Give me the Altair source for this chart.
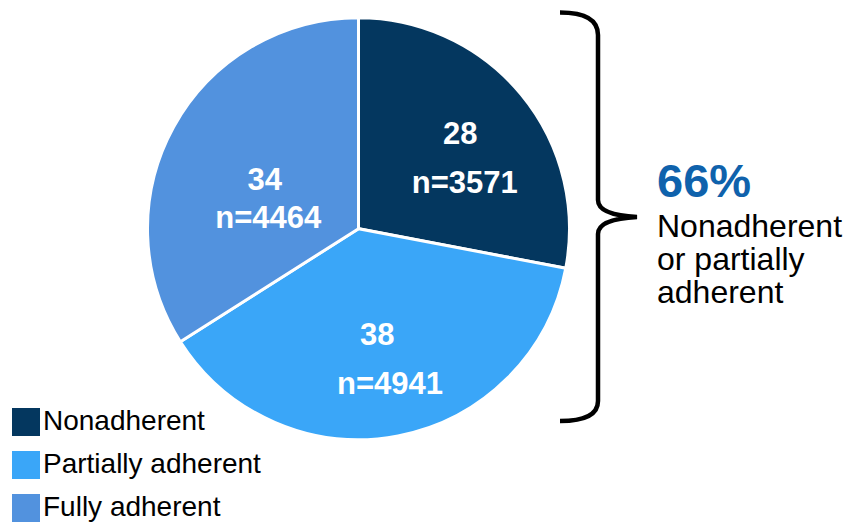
import altair as alt
import pandas as pd

# ---- data ----
categories = ["Nonadherent", "Partially adherent", "Fully adherent"]
percents = [28, 38, 34]
counts = [3571, 4941, 4464]
colors = ["#04375F", "#3AA6F8", "#5292DE"]
summary_lines = ["Nonadherent", "or partially", "adherent"]

FONT = "Liberation Sans"
CX, CY = 358.5, 228.7

df = pd.DataFrame({"category": categories, "pct": percents, "n": counts})
df["order"] = range(len(df))
df["n_label"] = "n=" + df["n"].astype(str)

base = alt.Chart(df).encode(
    theta=alt.Theta("pct:Q", stack=True),
    order=alt.Order("order:Q"),
    detail="category:N",
    x=alt.value(CX),
    y=alt.value(CY),
)

pie = base.mark_arc(outerRadius=211, stroke="white", strokeWidth=3).encode(
    color=alt.Color(
        "category:N",
        scale=alt.Scale(domain=categories, range=colors),
        sort=categories,
        legend=alt.Legend(
            title=None, orient="none", legendX=12, legendY=408,
            symbolType="square", symbolSize=784, symbolStrokeWidth=0,
            symbolOpacity=1, labelFont=FONT, labelFontSize=28,
            labelColor="black", labelOffset=3, rowPadding=15, padding=0,
            labelLimit=400,
        ),
    )
)

# per-slice label offsets (pixels) relative to the slice mid-angle at radius 125
tweaks = {
    "Nonadherent": ((5.5, -5), (9.9, 44.3)),
    "Partially adherent": ((-4.6, -6.5), (8.1, 42.5)),
    "Fully adherent": ((15.7, 21.5), (19.3, 59.8)),
}

layers = [pie]
for cat, ((dx1, dy1), (dx2, dy2)) in tweaks.items():
    for field, dx, dy in (("pct", dx1, dy1), ("n_label", dx2, dy2)):
        layers.append(
            base.transform_calculate(
                lbl=f"datum.category == '{cat}' ? '' + datum.{field} : ''"
            ).mark_text(
                radius=125, dx=dx, dy=dy, align="center", baseline="alphabetic",
                font=FONT, fontSize=31, fontWeight="bold", color="white",
            ).encode(text="lbl:N")
        )

summary_value = f"{percents[0] + percents[1]}%"
big = alt.Chart(pd.DataFrame({"t": [summary_value]})).mark_text(
    align="left", baseline="alphabetic", font=FONT, fontSize=47,
    fontWeight="bold", color="#0F62AC",
).encode(text="t:N", x=alt.value(657), y=alt.value(196.7))

desc = alt.Chart(pd.DataFrame({"t": ["\n".join(summary_lines)]})).mark_text(
    align="left", baseline="alphabetic", font=FONT, fontSize=32,
    lineBreak="\n", lineHeight=33, color="black",
).encode(text="t:N", x=alt.value(657), y=alt.value(237.3))

BRACE = ("M-38,-204.5 Q0,-204.5 0,-182 L0,-17 Q0,-2 39,0 "
         "Q0,2 0,17 L0,184 Q0,204 -38,204")
brace = alt.Chart(pd.DataFrame({"a": [0]})).mark_point(
    shape=BRACE, size=4, filled=False, color="black", strokeWidth=4.5, opacity=1,
).encode(x=alt.value(598), y=alt.value(217))

chart = alt.layer(*layers, big, desc, brace).properties(
    width=847, height=523, padding=0, autosize="none", background="white"
).configure_view(stroke=None)

chart.save("out.html", embed_options={"renderer": "svg", "actions": False})
